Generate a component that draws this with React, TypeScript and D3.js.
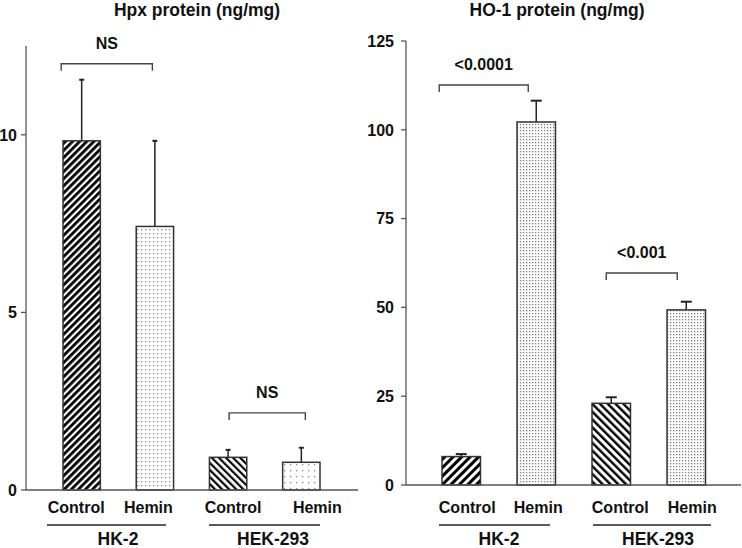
import React from "react";
import * as d3 from "d3";

// ---------- data ----------
const categories = ["Control", "Hemin", "Control", "Hemin"];
const groups = ["HK-2", "HEK-293"];

const hpxValues = [9.83, 7.42, 0.92, 0.78];
const hpxErrors = [1.72, 2.41, 0.21, 0.41];
const hpxTicks = [0, 5, 10];

const ho1Values = [8.0, 102.2, 23.0, 49.3];
const ho1Errors = [0.7, 6.0, 1.7, 2.3];
const ho1Ticks = [0, 25, 50, 75, 100, 125];

const hpxBrackets = [
  { a: 0, b: 1, value: 12.0, label: "NS" },
  { a: 2, b: 3, value: 2.17, label: "NS" },
];
const ho1Brackets = [
  { a: 0, b: 1, value: 112.6, label: "<0.0001" },
  { a: 2, b: 3, value: 59.7, label: "<0.001" },
];

const FONT = "'Liberation Sans', Arial, sans-serif";

const patternIds = ["stripeThick", "dotDense", "stripeThin", "dotSparse"];
const patternIdsRight = ["stripeThickR", "dotDarkR", "stripeThinR", "dotDarkR"];

type PanelProps = {
  title: string;
  titleX: number;
  values: number[];
  errors: number[];
  ticks: number[];
  yMax: number;
  axisX: number;
  axisEnd: number;
  yTop: number;
  yBottom: number;
  bandStart: number;
  bandEnd: number;
  padInner: number;
  capW: number;
  fills: string[];
  labelDx: number[];
  brackets: { a: number; b: number; value: number; label: string }[];
  bracketDx: number[][];
  groupLines: number[][];
  groupLabelX: number[];
  labelGap: number;
};

function Panel(p: PanelProps) {
  const y = d3.scaleLinear().domain([0, p.yMax]).range([p.yBottom, p.yTop]);
  const x = d3
    .scaleBand<number>()
    .domain(d3.range(p.values.length))
    .range([p.bandStart, p.bandEnd])
    .paddingInner(p.padInner)
    .paddingOuter(0);
  const bw = x.bandwidth();
  const cx = (i: number) => (x(i) as number) + bw / 2;

  return (
    <g>
      <text
        x={p.titleX}
        y={16}
        textAnchor="middle"
        fontFamily={FONT}
        fontWeight="bold"
        fontSize={17.5}
        fill="#111"
      >
        {p.title}
      </text>
      {/* y axis */}
      <line x1={p.axisX} x2={p.axisX} y1={y(p.yMax)} y2={y(0)} stroke="#555" strokeWidth={1.3} />
      {p.ticks.map((t) => (
        <g key={t}>
          <line x1={p.axisX - 5} x2={p.axisX} y1={y(t)} y2={y(t)} stroke="#555" strokeWidth={1.3} />
          <text
            x={p.axisX - p.labelGap}
            y={y(t)}
            dy="0.36em"
            textAnchor="end"
            fontFamily={FONT}
            fontWeight="bold"
            fontSize={16}
            fill="#111"
          >
            {t}
          </text>
        </g>
      ))}
      {/* bars */}
      {p.values.map((v, i) => (
        <g key={i}>
          <line
            x1={cx(i)}
            x2={cx(i)}
            y1={y(v)}
            y2={y(v + p.errors[i])}
            stroke="#222"
            strokeWidth={1.5}
          />
          <line
            x1={cx(i) - p.capW / 2}
            x2={cx(i) + p.capW / 2}
            y1={y(v + p.errors[i])}
            y2={y(v + p.errors[i])}
            stroke="#222"
            strokeWidth={2}
          />
          <rect
            x={x(i)}
            y={y(v)}
            width={bw}
            height={y(0) - y(v)}
            fill={`url(#${p.fills[i]})`}
            stroke="#333"
            strokeWidth={1.5}
          />
        </g>
      ))}
      {/* x axis */}
      <line x1={p.axisX} x2={p.axisEnd} y1={y(0)} y2={y(0)} stroke="#555" strokeWidth={1.3} />
      {/* brackets */}
      {p.brackets.map((b, k) => {
        const x1 = cx(b.a) + p.bracketDx[k][0];
        const x2 = cx(b.b) + p.bracketDx[k][1];
        const yy = y(b.value);
        return (
          <g key={k}>
            <path
              d={`M${x1},${yy + 7}V${yy}H${x2}V${yy + 7}`}
              fill="none"
              stroke="#444"
              strokeWidth={1.4}
            />
            <text
              x={(x1 + x2) / 2}
              y={yy - 15}
              textAnchor="middle"
              fontFamily={FONT}
              fontWeight="bold"
              fontSize={16}
              fill="#111"
            >
              {b.label}
            </text>
          </g>
        );
      })}
      {/* category labels */}
      {categories.map((c, i) => (
        <text
          key={i}
          x={cx(i) + p.labelDx[i]}
          y={513}
          textAnchor="middle"
          fontFamily={FONT}
          fontWeight="bold"
          fontSize={16}
          fill="#111"
        >
          {c}
        </text>
      ))}
      {groups.map((g, k) => (
        <g key={g}>
          <line
            x1={p.groupLines[k][0]}
            x2={p.groupLines[k][1]}
            y1={525}
            y2={525}
            stroke="#222"
            strokeWidth={1.3}
          />
          <text
            x={p.groupLabelX[k]}
            y={545}
            textAnchor="middle"
            fontFamily={FONT}
            fontWeight="bold"
            fontSize={17.5}
            fill="#111"
          >
            {g}
          </text>
        </g>
      ))}
    </g>
  );
}

export default function App() {
  return (
    <svg
      width={742}
      height={548}
      style={{ position: "absolute", left: 0, top: 0, background: "#fff" }}
    >
      <defs>
        <pattern id="stripeThick" width={5} height={5} patternUnits="userSpaceOnUse" patternTransform="rotate(45)">
          <rect width={5} height={5} fill="#fff" />
          <rect width={2.8} height={5} fill="#000" />
        </pattern>
        <pattern id="stripeThickR" width={6} height={6} patternUnits="userSpaceOnUse" patternTransform="rotate(45)">
          <rect width={6} height={6} fill="#fff" />
          <rect width={3} height={6} fill="#000" />
        </pattern>
        <pattern id="stripeThin" width={5} height={5} patternUnits="userSpaceOnUse" patternTransform="rotate(-45)">
          <rect width={5} height={5} fill="#fff" />
          <rect width={2.2} height={5} fill="#000" />
        </pattern>
        <pattern id="stripeThinR" width={5.5} height={5.5} patternUnits="userSpaceOnUse" patternTransform="rotate(-45)">
          <rect width={5.5} height={5.5} fill="#fff" />
          <rect width={2.4} height={5.5} fill="#000" />
        </pattern>
        <pattern id="dotDense" width={4} height={4} patternUnits="userSpaceOnUse">
          <rect width={4} height={4} fill="#fff" />
          <rect x={1} y={1} width={1.3} height={1.3} fill="#888" />
        </pattern>
        <pattern id="dotSparse" width={6} height={6} patternUnits="userSpaceOnUse">
          <rect width={6} height={6} fill="#fff" />
          <rect x={2} y={2} width={1.3} height={1.3} fill="#888" />
        </pattern>
        <pattern id="dotDarkR" width={3} height={3} patternUnits="userSpaceOnUse">
          <rect width={3} height={3} fill="#fff" />
          <rect x={1} y={1} width={1.2} height={1.2} fill="#777" />
          <rect x={2.5} y={2.5} width={0.5} height={0.5} fill="#bbb" />
        </pattern>
      </defs>
      <Panel
        title="Hpx protein (ng/mg)"
        titleX={197}
        values={hpxValues}
        errors={hpxErrors}
        ticks={hpxTicks}
        yMax={12.5}
        axisX={26}
        axisEnd={358}
        yTop={46}
        yBottom={490}
        bandStart={63}
        bandEnd={320}
        padInner={0.49}
        capW={5}
        fills={patternIds}
        labelDx={[-5.5, -6.5, 5, 16]}
        brackets={hpxBrackets}
        bracketDx={[
          [-20.5, -2.5],
          [1, 4],
        ]}
        groupLines={[
          [47, 166],
          [209, 320],
        ]}
        groupLabelX={[118, 273]}
        labelGap={9}
      />
      <Panel
        title="HO-1 protein (ng/mg)"
        titleX={557}
        values={ho1Values}
        errors={ho1Errors}
        ticks={ho1Ticks}
        yMax={125}
        axisX={406}
        axisEnd={741}
        yTop={41}
        yBottom={485}
        bandStart={442}
        bandEnd={705.5}
        padInner={0.487}
        capW={11}
        fills={patternIdsRight}
        labelDx={[6, 2, 9, 6]}
        brackets={ho1Brackets}
        bracketDx={[
          [-22, -8],
          [-5, -9],
        ]}
        groupLines={[
          [439, 550],
          [593, 711],
        ]}
        groupLabelX={[499, 658]}
        labelGap={12}
      />
    </svg>
  );
}
